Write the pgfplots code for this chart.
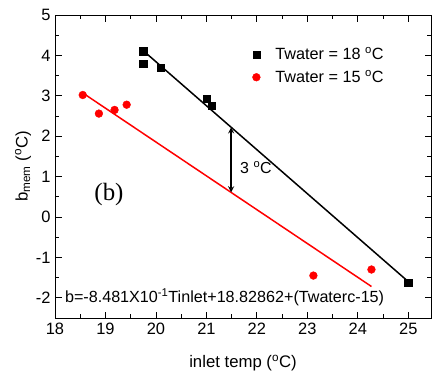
\documentclass[border=0pt]{standalone}
\usepackage{fontspec}
\setmainfont{Liberation Sans}
\newfontfamily\seriffont{Liberation Serif}
\usepackage{pgfplots}
\pgfplotsset{compat=1.18}
\begin{document}
\begin{tikzpicture}
\begin{axis}[
  scale only axis, width=376bp, height=303bp,
  at={(0,0)}, anchor=south west,
  xmin=18, xmax=25.45, ymin=-2.5, ymax=5,
  xtick={18,...,25}, ytick={-2,...,5},
  minor x tick num=1, minor y tick num=1,
  tick align=inside, xtick pos=both, ytick pos=both,
  major tick length=6.5bp, minor tick length=4bp,
  every tick/.style={black, line width=0.8bp},
  axis line style={line width=1bp},
  /pgf/number format/assume math mode=true,
  tick label style={font=\fontsize{16.5}{18}\selectfont},
  xticklabel style={yshift=-2bp},
  yticklabel style={xshift=-1bp},
  xlabel={inlet temp (\textsuperscript{o}C)},
  ylabel={b\textsubscript{mem} (\textsuperscript{o}C)},
  label style={font=\fontsize{16.8}{18}\selectfont},
  xlabel style={yshift=-13bp},
  ylabel style={yshift=-2bp},
  legend style={at={(axis cs:21.85,4.3)}, anchor=north west, draw=none, fill=none,
    font=\fontsize{16.3}{18}\selectfont, row sep=5bp, column sep=13bp},
  legend cell align=left,
]
\addplot[only marks, mark=square*, mark size=3.7bp, black] coordinates {
  (19.75,4.1) (19.75,3.8) (20.1,3.7) (21.0,2.93) (21.1,2.75) (25.0,-1.62)
};
\addlegendentry{Twater = 18 \textsuperscript{o}C}
\addplot[only marks, mark=*, mark size=3.9bp, red] coordinates {
  (18.55,3.02) (18.87,2.56) (19.18,2.65) (19.42,2.78) (23.12,-1.45) (24.27,-1.3)
};
\addlegendentry{Twater = 15 \textsuperscript{o}C}
\addplot[black, line width=1.5bp, forget plot] coordinates {(19.81,4.05) (25.0,-1.6)};
\addplot[red, line width=1.5bp, forget plot] coordinates {(18.61,3.02) (24.27,-1.72)};
\draw[<->, >=stealth, line width=1.7bp] (axis cs:21.49,2.22) -- (axis cs:21.49,0.61);
\node[anchor=west, font=\fontsize{16}{18}\selectfont] at (axis cs:21.6,1.22) {3 \textsuperscript{o}C};
\node[font=\seriffont\fontsize{25}{28}\selectfont] at (axis cs:19.07,0.56) {(b)};
\node[font=\fontsize{16.2}{18}\selectfont] at (axis cs:21.36,-1.99) {b=-8.481X10\textsuperscript{-1}Tinlet+18.82862+(Twaterc-15)};
\end{axis}
\pgfresetboundingbox
\useasboundingbox (-55bp,-58bp) rectangle (377bp,318bp);
\end{tikzpicture}
\end{document}
